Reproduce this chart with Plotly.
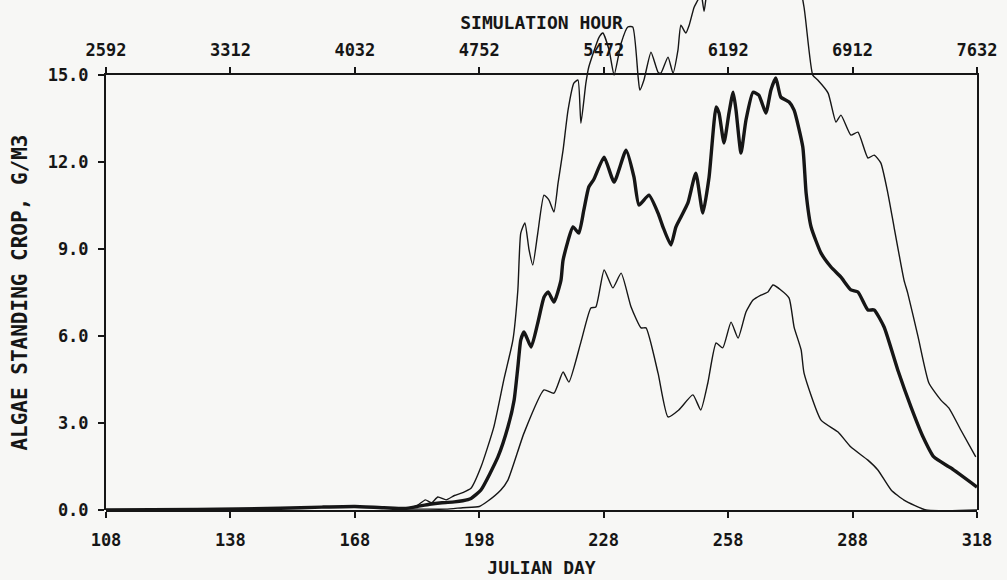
import plotly.graph_objects as go

# axis ticks
day_ticks = [108, 138, 168, 198, 228, 258, 288, 318]
hour_ticks = [2592, 3312, 4032, 4752, 5472, 6192, 6912, 7632]
crop_ticks = [0.0, 3.0, 6.0, 9.0, 12.0, 15.0]

# heavy middle curve
mid_day = [108, 130, 150, 160, 168, 175, 180, 183, 186, 189, 192, 194, 196, 198.4,
           202.5, 204.9, 206.4, 207.3, 208.0, 208.8, 210.5, 212.1, 213.6, 214.6, 216.0,
           217.7, 218.2, 220.6, 222.0, 223.2, 224.4, 225.6, 228.1, 230.5, 233.4, 235.3,
           236.5, 238.9, 241.1, 242.3, 244.2, 245.4, 246.6, 248.3, 250.2, 251.9, 253.4,
           255.1, 255.8, 257.0, 258.2, 259.2, 259.9, 261.1, 262.3, 264.0, 265.4, 267.1,
           268.3, 269.5, 270.7, 272.7, 273.9, 276.0, 276.8, 278.0, 280.4, 282.8, 285.2,
           287.6, 289.3, 291.7, 293.2, 295.6, 298.9, 302.1, 305.0, 307.6, 311.7, 318.0]
mid_crop = [0.0, 0.02, 0.06, 0.1, 0.12, 0.08, 0.05, 0.12, 0.2, 0.25, 0.28, 0.32, 0.4, 0.69,
            1.83, 2.86, 3.79, 4.93, 5.86, 6.14, 5.62, 6.45, 7.34, 7.52, 7.17,
            7.93, 8.62, 9.76, 9.55, 10.34, 11.14, 11.4, 12.17, 11.31, 12.41, 11.48,
            10.52, 10.86, 10.24, 9.76, 9.14, 9.76, 10.10, 10.59, 11.62, 10.24, 11.48,
            13.90, 13.69, 12.66, 13.69, 14.41, 13.79, 12.31, 13.45, 14.41, 14.31, 13.69,
            14.48, 14.9, 14.24, 14.07, 13.79, 12.52, 10.93, 9.76, 8.86, 8.38, 8.03,
            7.59, 7.52, 6.90, 6.90, 6.31, 4.83, 3.55, 2.52, 1.83, 1.45, 0.79]

# upper thin curve (runs past the top of the frame)
upper_day = [108, 130, 150, 160, 168, 175, 180, 183, 185, 186.5, 188, 190, 192, 194, 196,
             198.4, 201.5, 203.9, 206.1, 207.3, 208.0, 209.0, 210.0, 210.9, 212.1, 213.6,
             214.8, 216.0, 217.0, 218.2, 219.4, 220.8, 221.8, 222.5, 223.7, 224.4, 226.9,
             227.8, 229.3, 230.5, 232.2, 233.8, 235.0, 236.3, 236.7, 237.7, 239.4, 241.1,
             241.8, 243.5, 244.7, 245.9, 246.6, 247.8, 248.6, 249.8, 250.7, 251.4, 252.2,
             253.0, 256.0, 262.0, 268.0, 273.0, 276.3, 278.4, 279.6, 282.1, 284.0, 285.2,
             287.6, 289.3, 291.7, 293.2, 294.8, 296.5, 298.0, 300.4, 301.3, 303.8, 306.4,
             309.3, 311.2, 314.1, 317.7]
upper_crop = [0.0, 0.02, 0.06, 0.1, 0.12, 0.08, 0.05, 0.15, 0.35, 0.25, 0.45, 0.35, 0.5, 0.6, 0.75,
              1.48, 2.86, 4.48, 5.86, 7.59, 9.55, 9.90, 8.97, 8.45, 9.55, 10.86,
              10.69, 10.28, 11.28, 12.41, 13.79, 14.72, 14.83, 13.34, 14.72, 15.28, 16.31,
              16.45, 15.86, 15.0, 16.10, 16.66, 16.66, 14.93, 14.48, 14.83, 15.79, 15.10,
              15.07, 15.62, 15.07, 15.86, 16.72, 16.45, 16.72, 17.34, 17.59, 17.9, 17.2,
              18.0, 19.4, 20.3, 20.6, 19.6, 17.34, 15.0, 14.83, 14.38, 13.38, 13.62,
              12.93, 13.03, 12.14, 12.24, 11.97, 10.93, 9.76, 7.93, 7.48, 5.97, 4.38,
              3.79, 3.52, 2.76, 1.83]

# lower thin curve
lower_day = [108, 130, 150, 160, 168, 175, 180, 185, 190, 194, 198, 200, 203.2, 204.9,
             208.8, 213.6, 216.0, 218.2, 219.6, 222.5, 224.9, 226.1, 228.1, 230.2, 232.2,
             234.6, 237.0, 238.2, 241.1, 243.5, 246.1, 249.5, 251.4, 253.1, 255.1, 256.7,
             258.7, 260.4, 262.3, 264.0, 265.9, 267.6, 268.8, 270.7, 272.7, 273.9, 275.6,
             276.3, 280.4, 284.5, 287.6, 291.7, 294.1, 297.3, 300.4, 305.7, 318.0]
lower_crop = [0.0, 0.02, 0.06, 0.1, 0.12, 0.08, 0.04, 0.03, 0.03, 0.08, 0.12, 0.3, 0.69, 1.03,
              2.66, 4.14, 4.03, 4.76, 4.41, 5.79, 6.97, 7.0, 8.28, 7.66, 8.17,
              7.0, 6.28, 6.28, 4.72, 3.21, 3.45, 3.97, 3.45, 4.38, 5.76, 5.59,
              6.48, 5.93, 6.83, 7.24, 7.41, 7.52, 7.76, 7.59, 7.31, 6.31, 5.52,
              4.72, 3.10, 2.69, 2.17, 1.72, 1.38, 0.69, 0.34, 0.0, 0.0]

ink = "#161616"
paper = "#f7f7f5"
mono = "DejaVu Sans Mono, Liberation Mono, monospace"
tick_font = dict(family=mono, size=17, color=ink, weight="bold")
title_font = dict(family=mono, size=18, color=ink, weight="bold")

# the frame stops at 15.0, the data axis runs on to the top of the page
frame_top = 15.0
data_top = 17.59

fig = go.Figure()
for days, crop, width in [(upper_day, upper_crop, 1.4), (lower_day, lower_crop, 1.4),
                          (mid_day, mid_crop, 3.4)]:
    fig.add_trace(go.Scatter(x=days, y=crop, mode="lines", xaxis="x", yaxis="y",
                             line=dict(color=ink, width=width, shape="spline", smoothing=0.5),
                             hoverinfo="skip", showlegend=False))
# empty trace so the frame subplot (top axis + left axis) exists
fig.add_trace(go.Scatter(x=[], y=[], xaxis="x2", yaxis="y2", showlegend=False))

axis_common = dict(showgrid=False, zeroline=False, linecolor=ink, linewidth=2,
                   tickcolor=ink, tickwidth=2, ticklen=6, ticks="outside", tickfont=tick_font,
                   automargin=False)

fig.update_layout(
    width=1007, height=580,
    margin=dict(l=106, r=30, t=0, b=70),
    paper_bgcolor=paper, plot_bgcolor="rgba(0,0,0,0)",
    font=tick_font,
    xaxis=dict(range=[108, 318], tickvals=day_ticks, showline=True, anchor="y",
               domain=[0, 1], ticklabelstandoff=8,
               title=dict(text="JULIAN DAY", font=title_font, standoff=12),
               **axis_common),
    yaxis=dict(range=[0, data_top], domain=[0, 1], visible=False, fixedrange=True,
               automargin=False),
    xaxis2=dict(range=[2592, 7632], tickvals=hour_ticks, showline=True, anchor="y2",
                side="top", domain=[0, 1], ticklabelstandoff=4,
                title=dict(text="SIMULATION HOUR", font=title_font, standoff=6),
                **axis_common),
    yaxis2=dict(range=[0, frame_top], tickvals=crop_ticks, tickformat=".1f", showline=True,
                mirror=True, anchor="x2", domain=[0, frame_top / data_top],
                ticklabelstandoff=6,
                title=dict(text="ALGAE STANDING CROP, G/M3",
                           font=dict(title_font, size=21), standoff=14),
                **axis_common),
)

fig.write_html("out.html", config={"displayModeBar": False},
               post_script="document.body.style.margin='0px';")
